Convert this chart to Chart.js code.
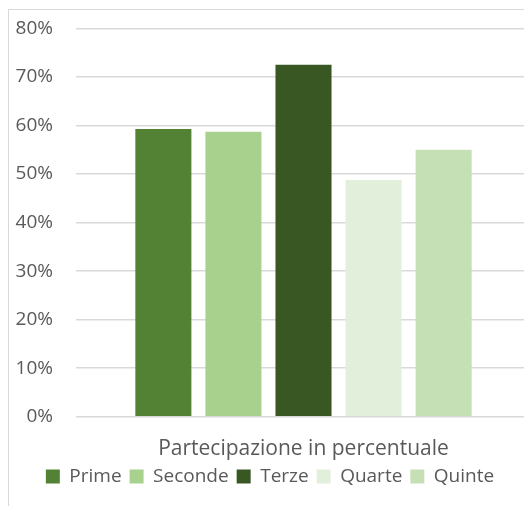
<!DOCTYPE html>
<html>
<head>
<meta charset="utf-8">
<script src="https://cdn.jsdelivr.net/npm/chart.js@4.4.4/dist/chart.umd.min.js"></script>
<style>
  html, body { margin: 0; padding: 0; background: #fff; overflow: hidden; }
  #frame {
    position: absolute; left: 8px; top: 9px;
    width: 560px; height: 540px;
    border: 1px solid #d9d9d9;
    overflow: hidden;
  }
  #chart { position: absolute; left: 0; top: -16px; }
</style>
</head>
<body>
<div id="frame"><canvas id="chart" width="529" height="517"></canvas></div>
<script>
// Excel-style grouped column chart: one category, five school years.
const categories = ['Partecipazione in percentuale'];
const seriesNames = ['Prime', 'Seconde', 'Terze', 'Quarte', 'Quinte'];
const seriesValues = [59.3, 58.7, 72.5, 48.8, 55.0];
const seriesColors = ['#548235', '#a9d18e', '#385723', '#e2efda', '#c5e0b4'];
const yTicks = [0, 10, 20, 30, 40, 50, 60, 70, 80];

const TEXT_COLOR = '#595959';
const GRID_COLOR = '#d9d9d9';
const FONT = '"Open Sans", sans-serif';

const datasets = seriesNames.map((name, i) => ({
  label: name,
  data: [seriesValues[i]],
  backgroundColor: seriesColors[i],
  borderWidth: 0,
  categoryPercentage: 0.77,
  barPercentage: 0.8
}));

new Chart(document.getElementById('chart'), {
  type: 'bar',
  data: { labels: categories, datasets },
  options: {
    responsive: false,
    animation: false,
    devicePixelRatio: 1,
    layout: { padding: { top: 1, right: 7, bottom: 15, left: 0 } },
    scales: {
      x: {
        grid: { display: false, drawTicks: false },
        border: { display: false },
        ticks: { display: false },
        // the single category name sits under the bars, like Excel does it
        title: {
          display: true,
          text: categories.join(' '),
          color: TEXT_COLOR,
          font: { family: FONT, size: 21 },
          padding: { top: 20, bottom: -3 }
        }
      },
      y: {
        min: 0,
        max: 80,
        afterBuildTicks: axis => { axis.ticks = yTicks.map(v => ({ value: v })); },
        afterFit: axis => { axis.width = 67; },
        grid: { color: GRID_COLOR, lineWidth: 1.5, drawTicks: false },
        border: { display: false },
        ticks: {
          color: TEXT_COLOR,
          font: { family: FONT, size: 19 },
          padding: 23,
          callback: v => v + '%'
        }
      }
    },
    plugins: {
      legend: {
        position: 'bottom',
        labels: {
          color: TEXT_COLOR,
          font: { family: FONT, size: 19 },
          boxWidth: 14,
          boxHeight: 14,
          padding: 8
        }
      },
      tooltip: { enabled: false }
    }
  }
});
</script>
</body>
</html>
